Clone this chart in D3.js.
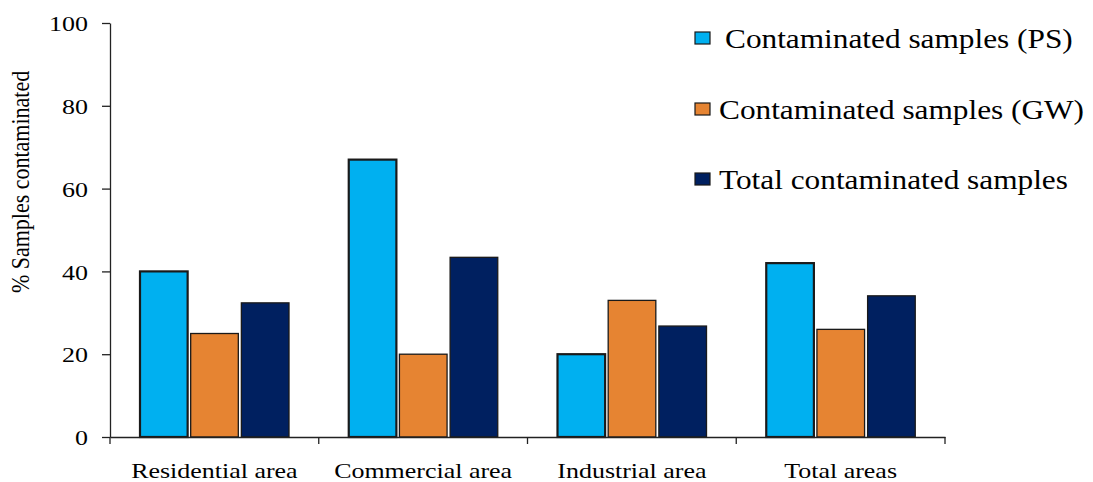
<!DOCTYPE html>
<html>
<head>
<meta charset="utf-8">
<script src="https://cdn.jsdelivr.net/npm/d3@7"></script>
<style>
  body { margin: 0; background: #fff; }
</style>
</head>
<body>
<svg id="chart" width="1093" height="482"></svg>
<script>
// data
var categories = ['Residential area', 'Commercial area', 'Industrial area', 'Total areas'];
var seriesNames = ['Contaminated samples (PS)', 'Contaminated samples (GW)', 'Total contaminated samples'];
var psValues = [40, 67, 20, 42];
var gwValues = [25, 20, 33, 26];
var totalValues = [32.4, 43.4, 26.8, 34.1];
var yTicks = [0, 20, 40, 60, 80, 100];
var colors = ['#00b0f0', '#e68432', '#002060'];
var strokeWidths = [2.2, 1.3, 1.3];

var allSeries = [psValues, gwValues, totalValues];
var font = '"Liberation Serif"';
var sx = 1.18; // the source text is stretched sideways

var svg = d3.select('#chart');

var x = d3.scaleBand().domain(categories).range([110, 945]).padding(0);
var xSub = d3.scaleBand().domain(d3.range(3)).range([30, 179]).paddingInner(0.06);
var y = d3.scaleLinear().domain([0, 100]).range([437, 23]);

// bars
var groups = svg.selectAll('g.cat')
  .data(categories)
  .enter().append('g')
    .attr('class', 'cat')
    .attr('transform', function(d){ return 'translate(' + x(d) + ',0)'; });

groups.selectAll('rect')
  .data(function(d, i){ return allSeries.map(function(s, j){ return {s: j, v: s[i]}; }); })
  .enter().append('rect')
    .attr('x', function(d){ return xSub(d.s); })
    .attr('width', xSub.bandwidth())
    .attr('y', function(d){ return y(d.v); })
    .attr('height', function(d){ return y(0) - y(d.v); })
    .style('fill', function(d){ return colors[d.s]; })
    .style('stroke', '#1a1a1a')
    .style('stroke-width', function(d){ return strokeWidths[d.s]; });

// y axis
var yAxis = svg.append('g')
  .attr('transform', 'translate(110,0)')
  .call(d3.axisLeft(y).tickValues(yTicks).tickSize(8).tickSizeOuter(0));
yAxis.select('.domain').style('stroke', '#222').style('stroke-width', 1.3);
yAxis.selectAll('.tick line').style('stroke', '#222').style('stroke-width', 1.3);
yAxis.selectAll('.tick text')
  .attr('x', 0)
  .attr('dy', '0.35em')
  .attr('transform', 'translate(-22,0) scale(' + sx + ',1)')
  .style('font-family', font)
  .style('font-size', '22px')
  .style('fill', '#000');

// x axis
var xAxis = svg.append('g')
  .attr('transform', 'translate(0,' + y(0) + ')')
  .call(d3.axisBottom(x).tickSize(0).tickSizeOuter(0).tickFormat(''));
xAxis.select('.domain').style('stroke', '#222').style('stroke-width', 1.3);

var bounds = categories.map(function(c){ return x(c); }).concat([x.range()[1]]);
xAxis.selectAll('line.bound')
  .data(bounds)
  .enter().append('line')
    .attr('class', 'bound')
    .attr('x1', function(d){ return d; })
    .attr('x2', function(d){ return d; })
    .attr('y1', 0)
    .attr('y2', 7)
    .style('stroke', '#222')
    .style('stroke-width', 1.3);

svg.selectAll('text.cat-label')
  .data(categories)
  .enter().append('text')
    .attr('class', 'cat-label')
    .attr('text-anchor', 'middle')
    .attr('transform', function(d){ return 'translate(' + (x(d) + x.bandwidth() / 2) + ',478) scale(' + sx + ',1)'; })
    .style('font-family', font)
    .style('font-size', '22px')
    .text(function(d){ return d; });

// y axis title
svg.append('text')
  .attr('text-anchor', 'middle')
  .attr('transform', 'translate(29,182) scale(' + sx + ',1) rotate(-90)')
  .style('font-family', font)
  .style('font-size', '22px')
  .text('% Samples contaminated');

// legend
var legendRows = [48, 119, 189];
var legendTextX = [725, 719, 719];
var legend = svg.selectAll('g.legend')
  .data(seriesNames)
  .enter().append('g')
    .attr('class', 'legend');

legend.append('rect')
  .attr('x', 695)
  .attr('y', function(d, i){ return legendRows[i] - 16; })
  .attr('width', 15)
  .attr('height', 12)
  .style('fill', function(d, i){ return colors[i]; })
  .style('stroke', '#1a1a1a')
  .style('stroke-width', 1.2);

legend.append('text')
  .attr('transform', function(d, i){ return 'translate(' + legendTextX[i] + ',' + legendRows[i] + ') scale(1.16,1)'; })
  .style('font-family', font)
  .style('font-size', '27px')
  .text(function(d){ return d; });
</script>
</body>
</html>
